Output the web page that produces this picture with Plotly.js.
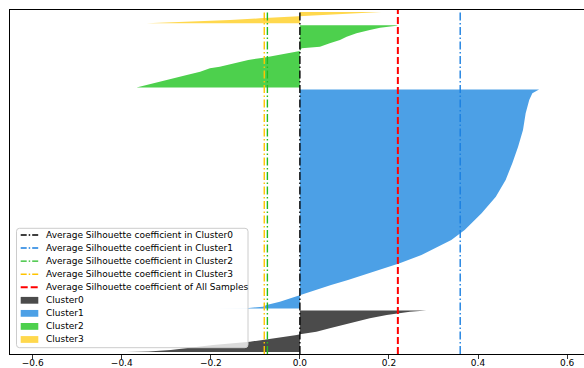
<!DOCTYPE html>
<html>
<head>
<meta charset="utf-8">
<script src="https://cdn.plot.ly/plotly-3.0.1.min.js"></script>
<style>html,body{margin:0;padding:0;background:#fff;}#chart{width:584px;height:368px;}</style>
</head>
<body>
<div id="chart"></div>
<script>
// ---- data ----
const clusterNames = ['Cluster0', 'Cluster1', 'Cluster2', 'Cluster3'];
const clusterSizes = [207, 1096, 311, 56];
const clusterColors = ['#4b4b4b', '#4ca0e6', '#4dd04d', '#ffd84d'];

// sorted silhouette values, sampled at rank positions within each cluster
const c0Rank  = [0, 2, 10, 18.5, 35, 51.5, 68.5, 85, 88.5, 101.5, 118.5, 135, 151.5, 168.5, 185, 193.5, 201.5, 207];
const c0Value = [-0.39, -0.34, -0.29, -0.26, -0.195, -0.112, -0.052, -0.007, 0.0, 0.037, 0.067, 0.097, 0.127, 0.157, 0.195, 0.22, 0.247, 0.284];

const c1Rank  = [0, 2, 9.5, 18, 34.5, 51.5, 68, 93, 118, 143, 193, 226.5, 268, 309.5, 343, 393, 476.5, 559.5, 643, 726.5, 809.5, 893, 976.5, 1043, 1076.5, 1096];
const c1Value = [-0.19, -0.12, -0.083, -0.075, -0.045, -0.022, 0.0, 0.035, 0.07, 0.108, 0.18, 0.224, 0.273, 0.31, 0.34, 0.37, 0.408, 0.44, 0.462, 0.477, 0.49, 0.501, 0.507, 0.515, 0.522, 0.537];

const c2Rank  = [0, 12, 28.5, 45.5, 62, 78.5, 95.5, 103.5, 120.5, 137, 148.5, 162, 170.5, 182, 195.5, 203.5, 220.5, 237, 253.5, 270.5, 287, 298.5, 308.5, 311];
const c2Value = [-0.367, -0.344, -0.314, -0.285, -0.254, -0.224, -0.202, -0.18, -0.146, -0.116, -0.082, -0.052, -0.03, 0.0, 0.004, 0.045, 0.067, 0.09, 0.105, 0.127, 0.157, 0.18, 0.217, 0.22];

const c3Rank  = [0, 3, 7.5, 16, 24.5, 32.5, 36, 41, 49.5, 56];
const c3Value = [-0.344, -0.3, -0.254, -0.157, -0.09, -0.022, 0.0, 0.05, 0.127, 0.183];

const clusterAvg = [0.0, 0.36, -0.073, -0.08];
const clusterAvgColors = ['#000000', '#1a7fe0', '#22bb22', '#ffc400'];
const overallAvg = 0.22;
const overallColor = '#ff0000';
const gap = 10;

const tickVals = [-0.6, -0.4, -0.2, 0.0, 0.2, 0.4, 0.6];
const tickText = ['\u22120.6', '\u22120.4', '\u22120.2', '0.0', '0.2', '0.4', '0.6'];

const legendLabels = [
  'Average Silhouette coefficient in Cluster0',
  'Average Silhouette coefficient in Cluster1',
  'Average Silhouette coefficient in Cluster2',
  'Average Silhouette coefficient in Cluster3',
  'Average Silhouette coefficient of All Samples',
  'Cluster0', 'Cluster1', 'Cluster2', 'Cluster3'
];

// ---- build ----
const ranks = [c0Rank, c1Rank, c2Rank, c3Rank];
const vals = [c0Value, c1Value, c2Value, c3Value];
const yTop = clusterSizes.reduce((a, b) => a + b, 0) + gap * (clusterSizes.length + 1);

const traces = [];
let yLower = gap;
for (let k = 0; k < clusterNames.length; k++) {
  const yl = yLower;
  traces.push({
    type: 'scatter', mode: 'lines', name: clusterNames[k],
    x: vals[k], y: ranks[k].map(r => yl + r),
    fill: 'tozerox', fillcolor: clusterColors[k],
    line: {width: 0, color: clusterColors[k]},
    hoverinfo: 'skip', showlegend: false
  });
  yLower += clusterSizes[k] + gap;
}
const dd = '8px,2.5px,1.5px,2.5px';
for (let k = 0; k < clusterAvg.length; k++) {
  traces.push({
    type: 'scatter', mode: 'lines',
    x: [clusterAvg[k], clusterAvg[k]], y: [0, yTop],
    line: {color: clusterAvgColors[k], width: 1.4, dash: dd},
    hoverinfo: 'skip', showlegend: false
  });
}
traces.push({
  type: 'scatter', mode: 'lines',
  x: [overallAvg, overallAvg], y: [0, yTop],
  line: {color: overallColor, width: 2, dash: '7px,3px'},
  hoverinfo: 'skip', showlegend: false
});

// manual legend (pixel -> paper helpers)
const W = 584, H = 368, ML = 10, MR = 0, MT = 10, MB = 14;
const PW = W - ML - MR, PH = H - MT - MB;
const px = p => (p - ML) / PW;
const py = p => (H - MB - p) / PH;

const bx0 = 16.5, bx1 = 248, by0 = 228.3, by1 = 347.7, rr = 3;
const boxPath =
  `M${px(bx0 + rr)},${py(by0)} L${px(bx1 - rr)},${py(by0)} Q${px(bx1)},${py(by0)} ${px(bx1)},${py(by0 + rr)} ` +
  `L${px(bx1)},${py(by1 - rr)} Q${px(bx1)},${py(by1)} ${px(bx1 - rr)},${py(by1)} ` +
  `L${px(bx0 + rr)},${py(by1)} Q${px(bx0)},${py(by1)} ${px(bx0)},${py(by1 - rr)} ` +
  `L${px(bx0)},${py(by0 + rr)} Q${px(bx0)},${py(by0)} ${px(bx0 + rr)},${py(by0)} Z`;

const shapes = [{
  type: 'path', xref: 'paper', yref: 'paper', layer: 'above', path: boxPath,
  fillcolor: 'rgba(255,255,255,0.8)', line: {color: '#cccccc', width: 1}
}];
const annotations = [];
const row0 = 235, rowStep = 13.06, sx0 = 20.7, sx1 = 38.3, tx = 45;
const lineColors = clusterAvgColors.concat([overallColor]);
for (let i = 0; i < legendLabels.length; i++) {
  const ry = row0 + i * rowStep;
  if (i < 5) {
    shapes.push({
      type: 'line', xref: 'paper', yref: 'paper', layer: 'above',
      x0: px(sx0), x1: px(sx1), y0: py(ry), y1: py(ry),
      line: {color: lineColors[i], width: i === 4 ? 2 : 1.4, dash: i === 4 ? '7px,3px' : '6px,2px,1.5px,2px'}
    });
  } else {
    shapes.push({
      type: 'rect', xref: 'paper', yref: 'paper', layer: 'above',
      x0: px(sx0), x1: px(sx1), y0: py(ry + 3.4), y1: py(ry - 3.4),
      fillcolor: clusterColors[i - 5], line: {width: 0}
    });
  }
  annotations.push({
    xref: 'paper', yref: 'paper', x: px(tx), y: py(ry),
    xanchor: 'left', yanchor: 'middle', showarrow: false,
    text: legendLabels[i], borderpad: 0,
    font: {family: 'DejaVu Sans', size: 9, color: '#000'}
  });
}

const layout = {
  width: W, height: H,
  margin: {l: ML, r: MR, t: MT, b: MB, pad: 0},
  paper_bgcolor: '#fff', plot_bgcolor: '#fff',
  showlegend: false,
  font: {family: 'DejaVu Sans', size: 9, color: '#000'},
  xaxis: {
    range: [-0.651, 0.638], showgrid: false, zeroline: false,
    showline: true, mirror: true, linecolor: '#000', linewidth: 1,
    ticks: 'outside', ticklen: 3.5, tickcolor: '#000', tickwidth: 0.8,
    ticklabelstandoff: -3,
    tickmode: 'array', tickvals: tickVals, ticktext: tickText,
    tickfont: {family: 'DejaVu Sans', size: 9, color: '#000'}
  },
  yaxis: {
    range: [0, yTop], showgrid: false, zeroline: false,
    showline: true, linecolor: '#000', linewidth: 1,
    showticklabels: false, ticks: ''
  },
  shapes: shapes,
  annotations: annotations
};

Plotly.newPlot('chart', traces, layout, {staticPlot: true, displayModeBar: false});
</script>
</body>
</html>
